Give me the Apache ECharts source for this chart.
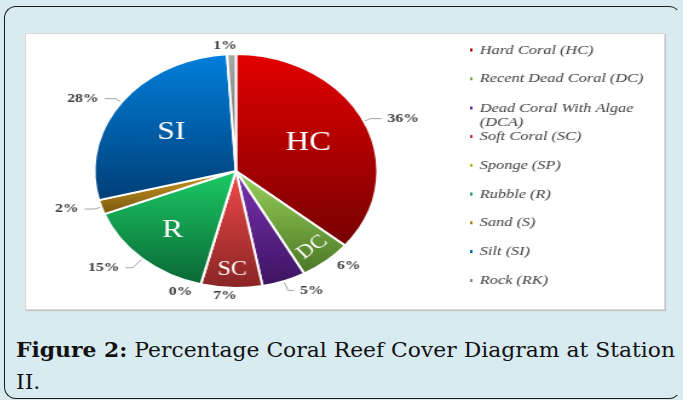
<!DOCTYPE html>
<html>
<head>
<meta charset="utf-8">
<script src="https://cdn.jsdelivr.net/npm/echarts@6/dist/echarts.min.js"></script>
<style>
html,body{margin:0;padding:0;width:683px;height:400px;overflow:hidden;background:#d8ebf1;}
#frame{position:absolute;left:4px;top:6px;width:677px;height:393px;border:1.5px solid #1e1e1e;border-right-color:transparent;border-radius:12px;box-sizing:border-box;}
#panel{position:absolute;left:25px;top:33px;width:640px;height:277px;background:#fff;border:1px solid #dadada;box-shadow:1px 1px 1px #c4c4c4;overflow:hidden;box-sizing:border-box;}
#chart{position:absolute;left:0;top:0;width:529px;height:277px;transform-origin:0 0;transform:scaleX(1.21);}
#caption{position:absolute;left:16px;top:334px;font-family:"DejaVu Serif","Liberation Serif",serif;font-size:20px;line-height:32px;color:#111;white-space:nowrap;transform-origin:0 0;}
#caption b{font-weight:bold;}
</style>
</head>
<body>
<div id="frame"></div>
<div id="panel"><div id="chart"></div></div>
<div id="caption"><span id="line1"><b>Figure 2:</b> Percentage Coral Reef Cover Diagram at Station</span><br>II.</div>
<script>
// ---- data ----
const categories = ['Hard Coral (HC)', 'Recent Dead Coral (DC)', 'Dead Coral With Algae (DCA)', 'Soft Coral (SC)', 'Sponge (SP)', 'Rubble (R)', 'Sand (S)', 'Silt (SI)', 'Rock (RK)'];
const codes = ['HC', 'DC', 'DCA', 'SC', 'SP', 'R', 'S', 'SI', 'RK'];
const percentValues = [36, 6, 5, 7, 0, 15, 2, 28, 1];

// ---- styles ----
const topColors = ['#e40000', '#9ad45a', '#7b32b2', '#f24a4a', '#d8d820', '#1ccc66', '#d09b20', '#0080dc', '#a8a8a8'];
const bottomColors = ['#760000', '#4b7626', '#3c1460', '#882424', '#8a8a00', '#0a6634', '#7a5810', '#003e76', '#666666'];
const insideSize = {HC: 27, R: 26, SI: 26, SC: 20, DC: 19};
// label line [show, length, length2] per code
const lineCfg = {HC: [true, 6, 9], DC: [false, 6, 0], DCA: [true, 10, 5], SC: [false, 8, 0], SP: [false, 8, 0],
                 R: [true, 12, 6], S: [true, 6, 8], SI: [true, 6, 9], RK: [false, 8, 0]};
const centeredLabels = ['SC', 'RK'];

function grad(i) {
  return {type: 'linear', x: 0, y: 0, x2: 0, y2: 1,
    colorStops: [{offset: 0, color: topColors[i]}, {offset: 1, color: bottomColors[i]}]};
}

const CX = 173.5, CY = 137, R = 117;
const serif = '"Liberation Serif","DejaVu Serif",serif';

const mainData = categories.map((name, i) => {
  const c = lineCfg[codes[i]];
  return {
    name: name,
    value: percentValues[i],
    itemStyle: {color: grad(i)},
    labelLine: {show: c[0], length: c[1], length2: c[2]}
  };
});

function overlayData(list) {
  return categories.map((name, i) => {
    const show = list.indexOf(codes[i]) >= 0;
    return {
      name: name,
      value: percentValues[i],
      label: {show: show, fontSize: insideSize[codes[i]] || 20, rotate: codes[i] === 'DC' ? 'tangential' : 0}
    };
  });
}

function overlaySeries(radius, list) {
  return {
    type: 'pie', center: [CX, CY], radius: radius, startAngle: 90, clockwise: true,
    silent: true, avoidLabelOverlap: false,
    itemStyle: {color: 'rgba(0,0,0,0)', borderWidth: 0},
    label: {position: 'inside', formatter: p => codes[p.dataIndex], color: '#fff', fontFamily: serif},
    labelLine: {show: false},
    emphasis: {disabled: true},
    data: overlayData(list)
  };
}

function legendBlock(names, top) {
  return {
    orient: 'vertical', left: 360, top: top,
    icon: 'rect', itemWidth: 4, itemHeight: 5, itemGap: 14.8,
    data: names,
    // wrapped entry: a blank first line keeps the marker level with "Dead Coral With Algae"
    formatter: n => n === 'Dead Coral With Algae (DCA)' ? ' \nDead Coral With Algae\n(DCA)' : n,
    textStyle: {fontFamily: serif, fontStyle: 'italic', fontSize: 13.5, color: '#404040', lineHeight: 14}
  };
}

const chart = echarts.init(document.getElementById('chart'), null, {renderer: 'canvas'});
chart.setOption({
  animation: false,
  backgroundColor: '#fff',
  legend: [
    legendBlock(categories.slice(0, 2), 4),
    legendBlock(categories.slice(2, 3), 48),
    legendBlock(categories.slice(3), 4 + 3 * 28.8)
  ],
  series: [
    {
      type: 'pie', center: [CX, CY], radius: [0, R], startAngle: 90, clockwise: true,
      avoidLabelOverlap: false,
      itemStyle: {borderColor: '#fff', borderWidth: 2},
      label: {show: true, position: 'outside', formatter: p => p.value + '%', fontFamily: serif, fontWeight: 'bold', fontSize: 13, color: '#404040'},
      labelLine: {lineStyle: {color: '#a6a6a6', width: 1}},
      labelLayout: p => centeredLabels.indexOf(codes[p.dataIndex]) >= 0 && p.seriesIndex === 0
        ? {dx: (p.labelRect.x + p.labelRect.width / 2 < CX ? 1 : -1) * p.labelRect.width / 2} : {},
      emphasis: {scale: false},
      data: mainData
    },
    overlaySeries([6, 120], ['HC', 'SI']),
    overlaySeries([34, 118], ['R']),
    overlaySeries([75, R], ['DC', 'SC'])
  ]
});

// fit caption first line width to the panel width
const line1 = document.getElementById('line1');
const w = line1.getBoundingClientRect().width;
document.getElementById('caption').style.transform = 'scaleX(' + (659 / w) + ')';
</script>
</body>
</html>
